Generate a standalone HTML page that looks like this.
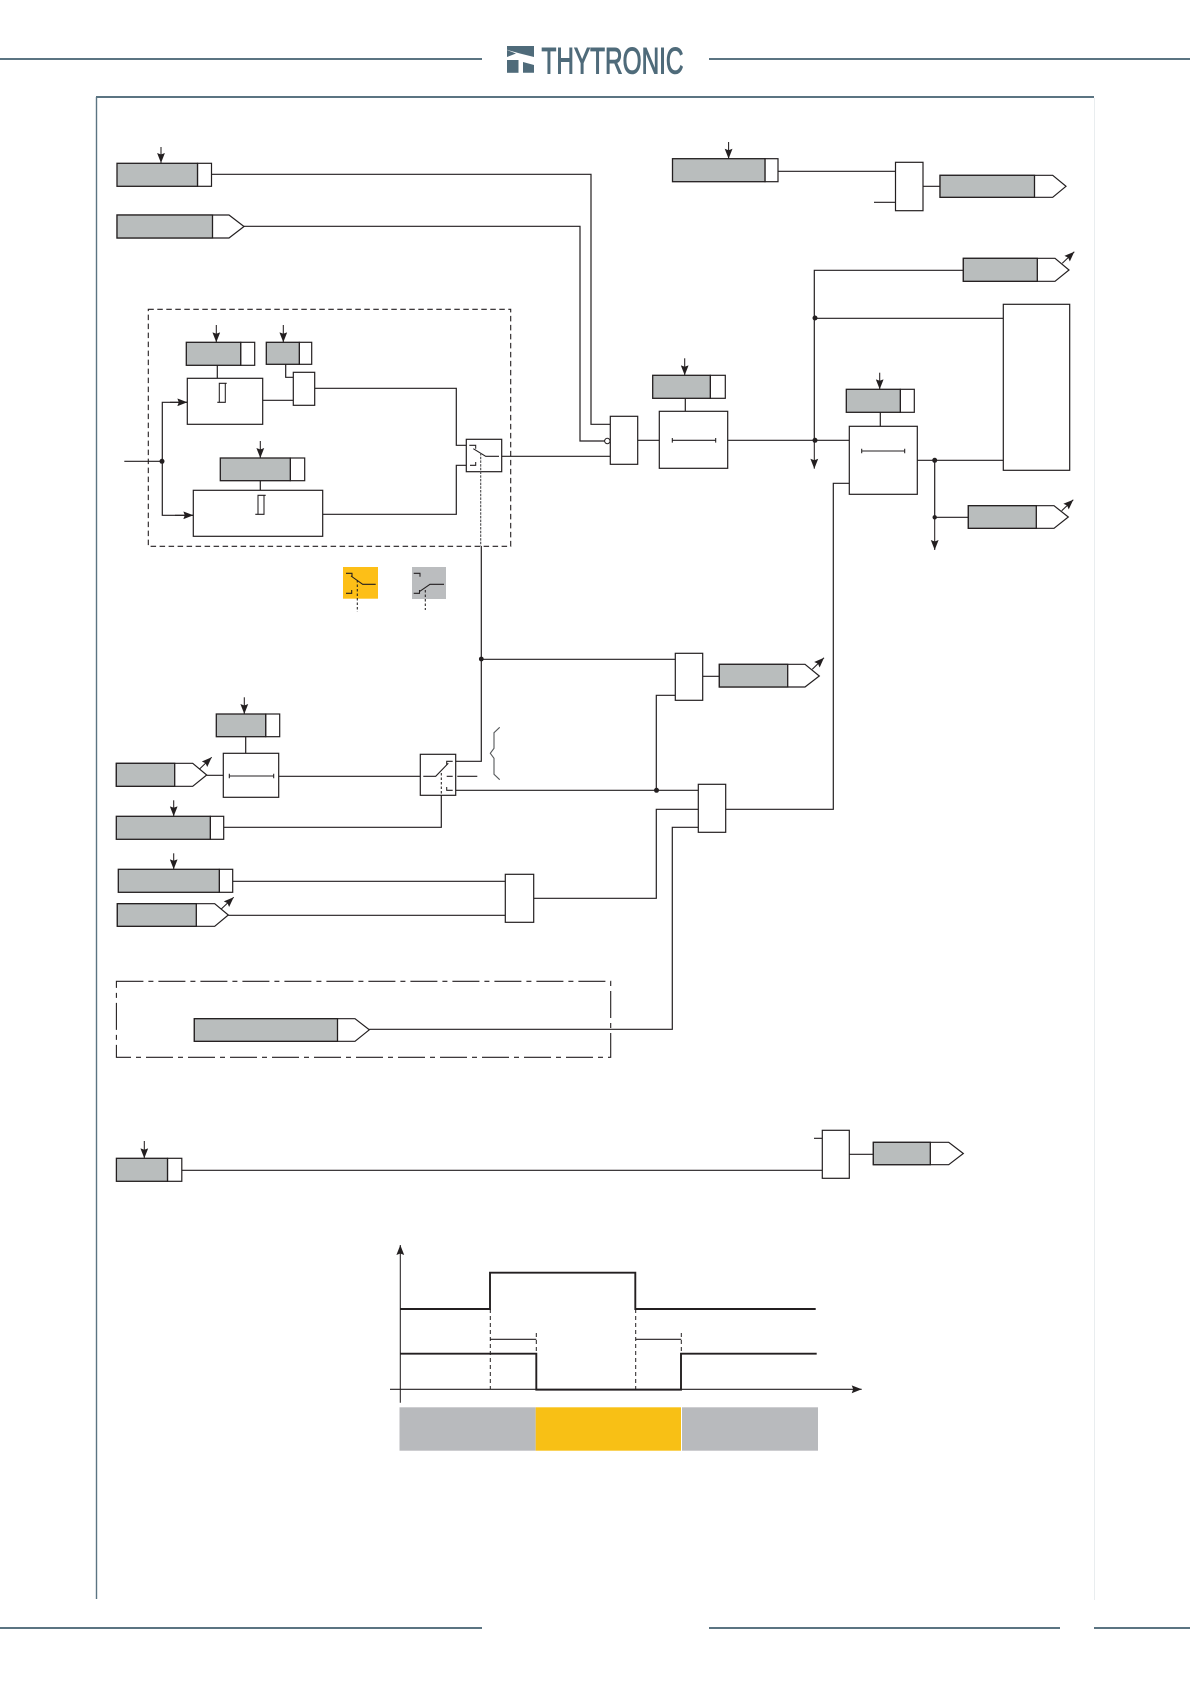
<!DOCTYPE html>
<html><head><meta charset="utf-8"><title>Diagram</title>
<style>html,body{margin:0;padding:0;background:#fff}svg{display:block}
.l{fill:none;stroke:#231f20;stroke-width:1.2}
.b{fill:#fff;stroke:#231f20;stroke-width:1.2}
.g{fill:#b9bdbd;stroke:#231f20;stroke-width:1.3}
.d{fill:#231f20}
.w{fill:none;stroke:#231f20;stroke-width:1.9}
.h{fill:none;stroke:#5b7482;stroke-width:2}
.t{fill:none;stroke:#231f20;stroke-width:1.05}
</style></head><body>
<svg xmlns="http://www.w3.org/2000/svg" width="1190" height="1684" viewBox="0 0 1190 1684">
<defs><marker id="a" markerUnits="userSpaceOnUse" markerWidth="12" markerHeight="10" refX="10" refY="4.5" orient="auto"><path d="M0,0.6 L10,4.5 L0,8.4 L1.5,4.5 z" fill="#231f20"/></marker></defs>

<!-- header / frame / footer -->
<path class="h" d="M0,59H482M709,59H1190M0,1628H482M709,1628H1060M1094,1628H1190"/>
<path d="M96.5,1599V97" fill="none" stroke="#5b7482" stroke-width="1.4"/>
<path d="M96,97H1094" fill="none" stroke="#5b7482" stroke-width="2"/>
<path d="M1094.5,98V1600" fill="none" stroke="#e9edef" stroke-width="1"/>
<!-- logo -->
<g fill="#4f6b7a">
<path d="M507,46H534V57L520,53.5L507,49.8z"/>
<path d="M507,50L516,53.5L507,57z"/>
<rect x="507" y="60" width="11.5" height="12.8"/>
<path d="M523,62L534,65V72.8H523z"/>
<text x="541.5" y="73.6" font-family="Liberation Sans, sans-serif" font-size="37" textLength="142" lengthAdjust="spacingAndGlyphs" stroke="#4f6b7a" stroke-width="1.1">THYTRONIC</text>
</g>

<!-- top row -->
<rect class="b" x="197.5" y="163.3" width="14" height="23"/><rect class="g" x="117" y="163.3" width="80.5" height="23"/>
<path class="t" d="M161,147V163" marker-end="url(#a)"/>
<path class="l" d="M211.5,174.3H591V424.3H610.3"/>
<polygon class="b" points="117,215 229,215 244,226.5 229,238 117,238"/><rect class="g" x="117" y="215" width="95.5" height="23"/>
<path class="l" d="M244,226.3H580V441H604.5"/>
<circle cx="607.3" cy="441" r="2.7" fill="#fff" stroke="#231f20" stroke-width="1"/>

<rect class="b" x="765" y="158.7" width="13" height="23"/><rect class="g" x="672.5" y="158.7" width="92.5" height="23"/>
<path class="t" d="M728.6,142V158.7" marker-end="url(#a)"/>
<path class="l" d="M778,171.3H895.5M874,202.3H895.5M923,186.3H940"/>
<rect class="b" x="895.5" y="162.3" width="27.5" height="48.4"/>
<polygon class="b" points="940,175.3 1052.7,175.3 1066,186.3 1052.7,197.3 940,197.3"/><rect class="g" x="940" y="175.3" width="94.5" height="22"/>

<!-- right side -->
<polygon class="b" points="963.3,258.3 1055,258.3 1069,270 1055,281.3 963.3,281.3"/><rect class="g" x="963.3" y="258.3" width="74" height="23"/>
<path class="t" d="M1062.3,263.3L1074.3,251.7" marker-end="url(#a)"/>
<path class="l" d="M963.3,270.3H814.3V440.3"/>
<path class="l" d="M814.3,318.3H1003.3"/>
<path class="t" d="M814.3,440V468.7" marker-end="url(#a)"/>
<circle class="d" cx="815" cy="318" r="2.5"/>
<rect class="b" x="1003.3" y="304.3" width="66.4" height="166"/>

<rect class="b" x="710.3" y="375.3" width="15" height="23"/><rect class="g" x="652.7" y="375.3" width="57.6" height="23"/>
<path class="t" d="M684.7,358.3V375.3" marker-end="url(#a)"/>
<path class="l" d="M685.3,398.3V411.3"/>
<rect class="b" x="659.3" y="411.3" width="68.4" height="57"/>
<path class="t" d="M672.3,440.3H715.7M672.3,438V442.6M715.7,438V442.6"/>
<rect class="b" x="610.3" y="416.3" width="27.4" height="48"/>
<path class="l" d="M637.7,440.3H659.3M727.7,440.3H849.3"/>
<circle class="d" cx="815" cy="440.3" r="2.5"/>

<rect class="b" x="900.3" y="389.3" width="14" height="23"/><rect class="g" x="846.3" y="389.3" width="54" height="23"/>
<path class="t" d="M879.7,372.7V389.3" marker-end="url(#a)"/>
<path class="l" d="M880.3,412.3V426.3"/>
<rect class="b" x="849.3" y="426.3" width="68" height="68"/>
<path class="t" d="M861.7,451H904.7M861.7,448.7V453.3M904.7,448.7V453.3"/>
<path class="l" d="M849.3,483.3H833.3V809.3H725.7"/>
<path class="l" d="M917.3,460.3H1003.3M934.7,460.3V517.3H968.3"/>
<path class="t" d="M934.7,517V550" marker-end="url(#a)"/>
<circle class="d" cx="934.7" cy="460.3" r="2.5"/><circle class="d" cx="934.7" cy="517.3" r="2.2"/>
<polygon class="b" points="968.3,505.7 1054,505.7 1068.3,517 1054,528.3 968.3,528.3"/><rect class="g" x="968.3" y="505.7" width="68" height="22.6"/>
<path class="t" d="M1061.7,510.7L1073.3,499.7" marker-end="url(#a)"/>

<!-- dashed group -->
<rect x="148.3" y="309.3" width="362.4" height="237" fill="none" stroke="#231f20" stroke-width="1.1" stroke-dasharray="5.5 3.5"/>
<rect class="b" x="240.7" y="342.3" width="14" height="23"/><rect class="g" x="186.3" y="342.3" width="54.4" height="23"/>
<path class="t" d="M216.3,325V342.3" marker-end="url(#a)"/>
<path class="l" d="M217.3,365.3V378.3"/>
<rect class="b" x="187.3" y="378.3" width="75.4" height="46"/>
<path class="t" d="M219.3,402.3V383.3H226.7M225.3,383.3V402.3H217.3"/>
<rect class="b" x="299.3" y="342.3" width="12.4" height="22"/><rect class="g" x="266.3" y="342.3" width="33" height="22"/>
<path class="t" d="M283.3,325V342.3" marker-end="url(#a)"/>
<path class="l" d="M285.7,364.3V377.3H293.3M262.7,400.3H293.3"/>
<rect class="b" x="293.3" y="372.3" width="21.4" height="33"/>
<path class="l" d="M314.7,388.3H456.3V445.3H466.3"/>

<rect class="b" x="290.3" y="458" width="14.4" height="22.7"/><rect class="g" x="220.3" y="458" width="70" height="22.7"/>
<path class="t" d="M260.3,441V458" marker-end="url(#a)"/>
<path class="l" d="M260.3,480.7V490.3"/>
<rect class="b" x="193.3" y="490.3" width="129.4" height="46"/>
<path class="t" d="M258,514.3V495.3H265.7M264,495.3V514.3H255.3"/>
<path class="l" d="M322.7,514.3H456.3V465.3H466.3"/>
<path class="l" d="M124.3,461.3H162.3"/>
<path class="l" d="M187.3,402.3H162.3V515.3H193.3"/>
<path class="t" d="M170,402.3H187.3" marker-end="url(#a)"/>
<path class="t" d="M175,515.3H193.3" marker-end="url(#a)"/>
<circle class="d" cx="162" cy="461.3" r="2.5"/>

<rect class="b" x="466.3" y="439.3" width="35.4" height="32.4"/>
<path class="t" d="M469.3,445.3H475.7V448.7M470,465.3H475.7V462"/>
<path class="t" d="M473.3,448.7L485.7,456.3H499"/>
<path class="l" d="M501.7,456.3H610.3"/>
<path d="M480.7,453V546" fill="none" stroke="#4a4a4c" stroke-width="1.1" stroke-dasharray="2.5 1.2"/>
<path class="l" d="M481.3,546V761.3H455.7"/>
<path class="l" d="M481.3,659.3H675.3"/>
<circle class="d" cx="481.3" cy="659" r="2.4"/>

<!-- legend squares -->
<rect x="343" y="567" width="35" height="31.7" fill="#fdbf17"/>
<path class="t" d="M346,573.3H352V576.7M346,593.3H351.7V590M351,576L362.7,584.3H375.7"/>
<path d="M357.3,580V611.7" fill="none" stroke="#231f20" stroke-width="1.05" stroke-dasharray="2.5 2"/>
<rect x="412" y="567" width="34" height="32" fill="#bbbdbf"/>
<path class="t" d="M413.7,573.3H420V576.7M413.7,593.3H419.5V590M419.3,591.7L430,584.3H444"/>
<path d="M425.3,590V610" fill="none" stroke="#231f20" stroke-width="1.05" stroke-dasharray="2.5 2"/>

<!-- middle -->
<rect class="b" x="265.7" y="714" width="14" height="22.7"/><rect class="g" x="216.3" y="714" width="49.4" height="22.7"/>
<path class="t" d="M244.3,697.3V714" marker-end="url(#a)"/>
<path class="l" d="M245.7,736.7V753.3"/>
<rect class="b" x="223.3" y="753.3" width="55.4" height="44"/>
<path class="t" d="M229.3,776H273.7M229.3,773.7V778.3M273.7,773.7V778.3"/>
<polygon class="b" points="116.3,763.3 192.7,763.3 206.7,775 192.7,786.3 116.3,786.3"/><rect class="g" x="116.3" y="763.3" width="58.4" height="23"/>
<path class="t" d="M199.3,769.3L211.7,757.3" marker-end="url(#a)"/>
<path class="l" d="M206.7,775.3H223.3M278.7,776.3H420.3"/>
<rect class="b" x="420.3" y="754.3" width="35.4" height="41"/>
<path class="t" d="M423.3,776.3H435.7L448.3,763.3M446.7,765V761.3H452.7M446.7,776.3H452.7M457.3,776.3H477.3M446.7,787V790.3H452.7"/>
<path d="M441.3,773V795" fill="none" stroke="#231f20" stroke-width="1.05" stroke-dasharray="2.5 2"/>
<path class="l" d="M441.3,795V827.3H223.7"/>
<path class="l" d="M455.7,790.3H698.3"/>
<path d="M499.7,727.3L494,732.7V748.3L490.3,753.3L494,758.3V774.3L499.7,779.7" fill="none" stroke="#55585a" stroke-width="1.1"/>
<rect class="b" x="210.3" y="816.3" width="13.4" height="23"/><rect class="g" x="116.3" y="816.3" width="94" height="23"/>
<path class="t" d="M173.7,800.3V816.3" marker-end="url(#a)"/>
<rect class="b" x="219.3" y="869.3" width="13.4" height="23"/><rect class="g" x="118.3" y="869.3" width="101" height="23"/>
<path class="t" d="M173.7,853.3V869.3" marker-end="url(#a)"/>
<polygon class="b" points="117.3,903.7 214.7,903.7 228.3,915 214.7,926.3 117.3,926.3"/><rect class="g" x="117.3" y="903.7" width="79" height="22.6"/>
<path class="t" d="M221,909.3L233.7,897.3" marker-end="url(#a)"/>
<path class="l" d="M232.7,881.3H505.3M228.3,915.3H505.3"/>
<rect class="b" x="505.3" y="874.3" width="28.4" height="48"/>
<path class="l" d="M533.7,898.3H656.3V809.3H698.3"/>
<rect class="b" x="675.3" y="653.3" width="27.4" height="47"/>
<path class="l" d="M675.3,695.3H656.3V790.3M702.7,676.3H719.3"/>
<circle class="d" cx="656.5" cy="790.3" r="2.5"/>
<polygon class="b" points="719.3,664.3 805,664.3 819.3,676 805,687 719.3,687"/><rect class="g" x="719.3" y="664.3" width="68.4" height="22.7"/>
<path class="t" d="M812.3,669.3L824,657.7" marker-end="url(#a)"/>
<rect class="b" x="698.3" y="784.3" width="27.4" height="48"/>
<path class="l" d="M698.3,827.3H672.3V1029.3H369.3"/>

<!-- dash-dot group -->
<rect x="116.4" y="981.3" width="494.3" height="76" fill="none" stroke="#231f20" stroke-width="1.1" stroke-dasharray="27 5 5 5"/>
<polygon class="b" points="194.3,1018.7 355,1018.7 369.3,1029.8 355,1041.3 194.3,1041.3"/><rect class="g" x="194.3" y="1018.7" width="143.2" height="22.6"/>

<!-- bottom row -->
<rect class="b" x="167.5" y="1158.3" width="14.3" height="23"/><rect class="g" x="116.4" y="1158.3" width="51.1" height="23"/>
<path class="t" d="M144.3,1141V1158.3" marker-end="url(#a)"/>
<path class="l" d="M181.8,1170.3H822.3M814,1138.3H822.3M849.3,1154.3H873.3"/>
<rect class="b" x="822.3" y="1130.3" width="27" height="48"/>
<polygon class="b" points="873.3,1142.3 948.7,1142.3 963.3,1153.5 948.7,1164.7 873.3,1164.7"/><rect class="g" x="873.3" y="1142.3" width="57" height="22.4"/>

<!-- timing chart -->
<rect x="399.5" y="1407.3" width="136.2" height="43.4" fill="#b8babd"/>
<rect x="535.7" y="1407.3" width="145.3" height="43.4" fill="#f8c015"/>
<rect x="682" y="1407.3" width="136" height="43.4" fill="#b8babd"/>
<path class="t" d="M400.3,1402.7V1245" marker-end="url(#a)"/>
<path class="t" d="M390,1389.3H861.7" marker-end="url(#a)"/>
<path class="w" d="M400.3,1309H490V1272.7H635.3V1309H815.7"/>
<path class="w" d="M400.3,1353.7H536.3V1389.7H681V1353.7H816.7"/>
<path d="M490.3,1309V1389M635.7,1309V1389M536.3,1333V1353M681.3,1333V1353" fill="none" stroke="#231f20" stroke-width="1" stroke-dasharray="4 3"/>
<path class="t" d="M490.3,1339.3H536.3M635.7,1339.3H681.3"/>
</svg>
</body></html>
